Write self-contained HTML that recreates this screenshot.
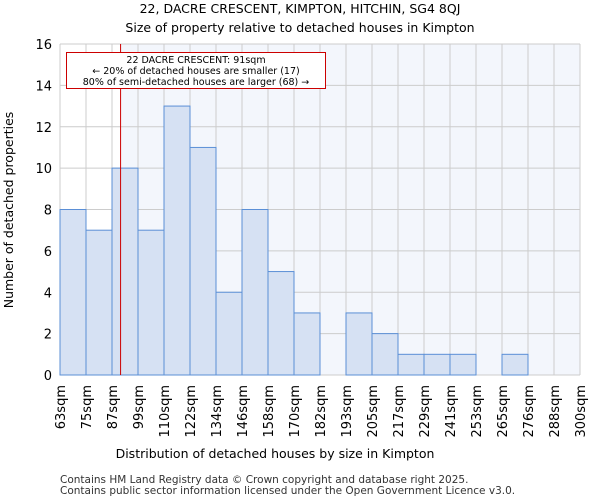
<!DOCTYPE html>
<html><head><meta charset="utf-8"><style>
body{margin:0;background:#fff;font-family:"DejaVu Sans","Liberation Sans",sans-serif;}
</style></head><body>
<svg width="600" height="500" xmlns="http://www.w3.org/2000/svg" font-family="DejaVu Sans, Liberation Sans, sans-serif">
<text x="300" y="13" text-anchor="middle" font-size="12.5">22, DACRE CRESCENT, KIMPTON, HITCHIN, SG4 8QJ</text>
<text x="300" y="32" text-anchor="middle" font-size="12.5">Size of property relative to detached houses in Kimpton</text>
<g id="plot"></g>
<text x="275" y="458" text-anchor="middle" font-size="12.5">Distribution of detached houses by size in Kimpton</text>
<text transform="translate(13,210) rotate(-90)" text-anchor="middle" font-size="12.5">Number of detached properties</text>
<text x="60" y="483" font-size="10.5" fill="#333">Contains HM Land Registry data © Crown copyright and database right 2025.</text>
<text x="60" y="494" font-size="10.5" fill="#333">Contains public sector information licensed under the Open Government Licence v3.0.</text>
</svg>
<script>
const categories=["63sqm","75sqm","87sqm","99sqm","110sqm","122sqm","134sqm","146sqm","158sqm","170sqm","182sqm","193sqm","205sqm","217sqm","229sqm","241sqm","253sqm","265sqm","276sqm","288sqm","300sqm"];
const counts=[8,7,10,7,13,11,4,8,5,3,0,3,2,1,1,1,0,1,0,0];
const yTicks=[0,2,4,6,8,10,12,14,16];
const propertyBin=2.33;
const NS="http://www.w3.org/2000/svg";
const L=60,R=580,T=44,B=375,yMax=16;
const bw=(R-L)/counts.length;
const xs=i=>L+i*bw;
const ys=v=>B-(v/yMax)*(B-T);
const g=document.getElementById('plot');
function mk(t,a){const e=document.createElementNS(NS,t);for(const k in a)e.setAttribute(k,a[k]);g.appendChild(e);return e;}
const redX=xs(propertyBin);
let bg=mk('rect',{x:L,y:T,width:redX-L,height:B-T,fill:'#ffffff'});


let bg2=mk('rect',{x:redX,y:T,width:R-redX,height:B-T,fill:'#f3f6fc'});


for(let i=0;i<=counts.length;i++){let l=mk('line',{x1:xs(i),x2:xs(i),y1:T,y2:B,stroke:'#cccccc','stroke-width':1});

}
yTicks.forEach(v=>{let l=mk('line',{x1:L,x2:R,y1:ys(v),y2:ys(v),stroke:'#cccccc','stroke-width':1});


let t=mk('text',{x:L-8,y:ys(v)+5,'text-anchor':'end','font-size':13});t.textContent=v;

});
counts.forEach((v,i)=>{if(v<=0)return;let r=mk('rect',{x:xs(i),y:ys(v),width:bw,height:B-ys(v),fill:'#d6e1f3',stroke:'#5b8fd6','stroke-width':1});

});
categories.forEach((c,i)=>{let t=mk('text',{transform:`translate(${xs(i)+5},385) rotate(-90)`,'text-anchor':'end','font-size':13});t.textContent=c;

});
let rl=mk('line',{x1:redX,x2:redX,y1:T,y2:B,stroke:'#cc0000','stroke-width':1});


let box=mk('rect',{x:66.5,y:52.5,width:259,height:36,fill:'#fff',stroke:'#cc0000','stroke-width':1});


["22 DACRE CRESCENT: 91sqm","← 20% of detached houses are smaller (17)","80% of semi-detached houses are larger (68) →"].forEach((s,k)=>{let t=mk('text',{x:196,y:63+k*11,'text-anchor':'middle','font-size':9.5});t.textContent=s;

});
</script>
</body></html>
